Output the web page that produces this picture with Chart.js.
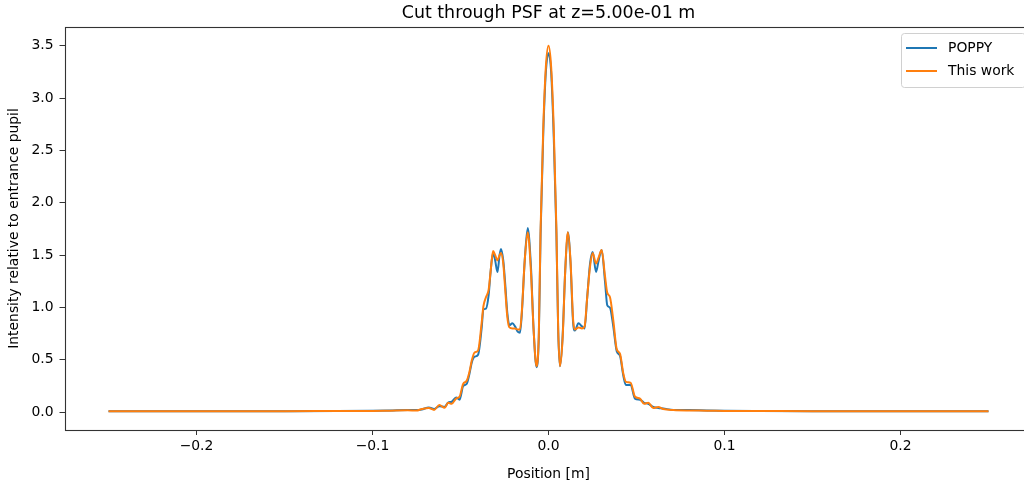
<!DOCTYPE html>
<html>
<head>
<meta charset="utf-8">
<script src="https://cdn.jsdelivr.net/npm/chart.js@4.4.1/dist/chart.umd.min.js"></script>
<style>
html,body{margin:0;padding:0;background:#fff;overflow:hidden;}
#wrap{position:relative;width:1040px;height:483px;}
</style>
</head>
<body>
<div id="wrap"><canvas id="c"></canvas></div>
<script>
const titleText = "Cut through PSF at z=5.00e-01 m";
const xLabel = "Position [m]";
const yLabel = "Intensity relative to entrance pupil";
const seriesNames = ["POPPY", "This work"];
const xTicks = [-0.2, -0.1, 0.0, 0.1, 0.2];
const yTicks = [0.0, 0.5, 1.0, 1.5, 2.0, 2.5, 3.0, 3.5];

const positions = [-0.25,-0.20,-0.15,-0.12,-0.10,-0.09,-0.08,-0.075,-0.072,-0.068,-0.065,-0.062,-0.059,-0.057,-0.055,-0.0525,-0.0505,-0.0485,-0.0465,-0.045,-0.0435,-0.042,-0.040,-0.038,-0.037,-0.0355,-0.034,-0.0328,-0.0315,-0.0303,-0.029,-0.0278,-0.027,-0.0257,-0.0247,-0.0234,-0.0222,-0.0205,-0.019,-0.0175,-0.0162,-0.0152,-0.0135,-0.0118,-0.010,-0.0085,-0.0068,-0.0055,-0.0045,-0.003,-0.0015,0.0,0.0015,0.003,0.0045,0.0055,0.0065,0.008,0.0095,0.011,0.0125,0.014,0.015,0.017,0.019,0.0205,0.022,0.0236,0.0251,0.027,0.0285,0.0302,0.0321,0.0334,0.0349,0.0368,0.0388,0.0406,0.0425,0.044,0.0467,0.0491,0.052,0.0543,0.0567,0.0595,0.0624,0.0652,0.071,0.08,0.09,0.10,0.12,0.15,0.20,0.25];

const thisWork = [0.010,0.010,0.010,0.011,0.012,0.015,0.018,0.016,0.030,0.040,0.022,0.068,0.042,0.090,0.080,0.130,0.150,0.270,0.300,0.380,0.500,0.570,0.590,0.850,1.010,1.100,1.170,1.360,1.540,1.500,1.450,1.500,1.520,1.420,1.200,0.910,0.810,0.800,0.800,0.790,0.790,0.950,1.450,1.720,1.350,0.800,0.440,0.750,1.740,2.700,3.300,3.500,3.300,2.700,1.740,0.800,0.440,0.700,1.350,1.720,1.450,0.880,0.790,0.810,0.800,0.820,1.100,1.390,1.520,1.420,1.480,1.550,1.300,1.140,1.100,0.880,0.600,0.560,0.370,0.290,0.280,0.150,0.130,0.080,0.090,0.040,0.050,0.030,0.020,0.016,0.015,0.012,0.011,0.010,0.010,0.010];

const poppy = [0.010,0.010,0.010,0.011,0.014,0.017,0.022,0.020,0.026,0.046,0.030,0.058,0.052,0.092,0.100,0.140,0.120,0.250,0.270,0.360,0.480,0.530,0.550,0.800,0.980,0.990,1.120,1.360,1.520,1.450,1.340,1.500,1.560,1.450,1.250,0.950,0.830,0.850,0.820,0.770,0.760,0.930,1.450,1.760,1.400,0.800,0.430,0.720,1.700,2.650,3.250,3.430,3.250,2.620,1.700,0.780,0.440,0.720,1.350,1.720,1.430,0.850,0.780,0.850,0.820,0.800,1.100,1.420,1.530,1.340,1.450,1.550,1.250,1.020,1.000,0.820,0.580,0.540,0.350,0.260,0.260,0.130,0.120,0.090,0.080,0.050,0.040,0.035,0.022,0.020,0.016,0.013,0.011,0.010,0.010,0.010];

const FONT = "'DejaVu Sans', sans-serif";
const TICK = 13.9;
const pts = arr => positions.map((x, i) => ({x: x, y: arr[i]}));
const fmt = v => { const s = Number(v).toFixed(1); return s.startsWith('-') ? '\u2212' + s.slice(1) : s; };

const framePlugin = {
  id: 'frame',
  afterDatasetsDraw(chart) {
    const a = chart.chartArea, ctx = chart.ctx;
    ctx.save();
    ctx.strokeStyle = '#333';
    ctx.lineWidth = 1.1;
    ctx.strokeRect(Math.round(a.left) + 0.5, Math.round(a.top) + 0.5, Math.round(a.right - a.left), Math.round(a.bottom - a.top));
    ctx.restore();
  }
};

const axesTitlePlugin = {
  id: 'axesTitle',
  afterDraw(chart) {
    const a = chart.chartArea, ctx = chart.ctx;
    ctx.save();
    ctx.font = '17.4px ' + FONT;
    ctx.fillStyle = '#000';
    ctx.textAlign = 'center';
    ctx.textBaseline = 'middle';
    ctx.fillText(titleText, (a.left + a.right) / 2, 13);
    ctx.restore();
  }
};

const legendPlugin = {
  id: 'mplLegend',
  afterDraw(chart) {
    const a = chart.chartArea, ctx = chart.ctx;
    const w = 124, h = 54;
    const x = a.right - 7.5 - w, y = a.top + 6;
    ctx.save();
    ctx.beginPath();
    if (ctx.roundRect) ctx.roundRect(x + 0.5, y + 0.5, w, h, 3); else ctx.rect(x + 0.5, y + 0.5, w, h);
    ctx.fillStyle = 'rgba(255,255,255,0.8)';
    ctx.fill();
    ctx.strokeStyle = '#d0d0d0';
    ctx.lineWidth = 1;
    ctx.stroke();
    ctx.font = TICK + 'px ' + FONT;
    ctx.textBaseline = 'middle';
    ctx.textAlign = 'left';
    chart.data.datasets.forEach((ds, i) => {
      const ly = y + 15 + i * 23;
      ctx.strokeStyle = ds.borderColor;
      ctx.lineWidth = 2;
      ctx.beginPath();
      ctx.moveTo(x + 5, ly);
      ctx.lineTo(x + 36, ly);
      ctx.stroke();
      ctx.fillStyle = '#000';
      ctx.fillText(ds.label, x + 47, ly);
    });
    ctx.restore();
  }
};

new Chart(document.getElementById('c'), {
  type: 'line',
  data: {
    datasets: [
      {label: seriesNames[0], data: pts(poppy), borderColor: '#1f77b4', backgroundColor: '#1f77b4', borderWidth: 2, pointRadius: 0, cubicInterpolationMode: 'monotone', order: 1},
      {label: seriesNames[1], data: pts(thisWork), borderColor: '#ff7f0e', backgroundColor: '#ff7f0e', borderWidth: 2, pointRadius: 0, cubicInterpolationMode: 'monotone', order: 0}
    ]
  },
  options: {
    responsive: true,
    maintainAspectRatio: false,
    animation: false,
    layout: {padding: {left: 0, right: 7.5, top: 27, bottom: 0}},
    plugins: {
      legend: {display: false},
      tooltip: {enabled: false},
      title: {display: false}
    },
    scales: {
      x: {
        type: 'linear', min: -0.275, max: 0.275,
        afterBuildTicks: s => { s.ticks = xTicks.map(v => ({value: v})); },
        afterFit: s => { s.height = 53; },
        border: {display: false},
        grid: {display: true, drawOnChartArea: false, drawTicks: true, tickLength: 5, color: '#333', tickWidth: 1},
        ticks: {color: '#000', font: {family: FONT, size: TICK}, padding: 3, maxRotation: 0, callback: v => fmt(v)},
        title: {display: true, text: xLabel, color: '#000', font: {family: FONT, size: TICK}, padding: {top: 3, bottom: 0}}
      },
      y: {
        type: 'linear', min: -0.17, max: 3.68,
        afterBuildTicks: s => { s.ticks = yTicks.map(v => ({value: v})); },
        afterFit: s => { s.width = 64.5; },
        border: {display: false},
        grid: {display: true, drawOnChartArea: false, drawTicks: true, tickLength: 5, color: '#333', tickWidth: 1},
        ticks: {color: '#000', font: {family: FONT, size: TICK}, padding: 6, callback: v => fmt(v)},
        title: {display: true, text: yLabel, color: '#000', font: {family: FONT, size: TICK}, padding: {top: 6, bottom: 0}}
      }
    }
  },
  plugins: [framePlugin, axesTitlePlugin, legendPlugin]
});
</script>
</body>
</html>
